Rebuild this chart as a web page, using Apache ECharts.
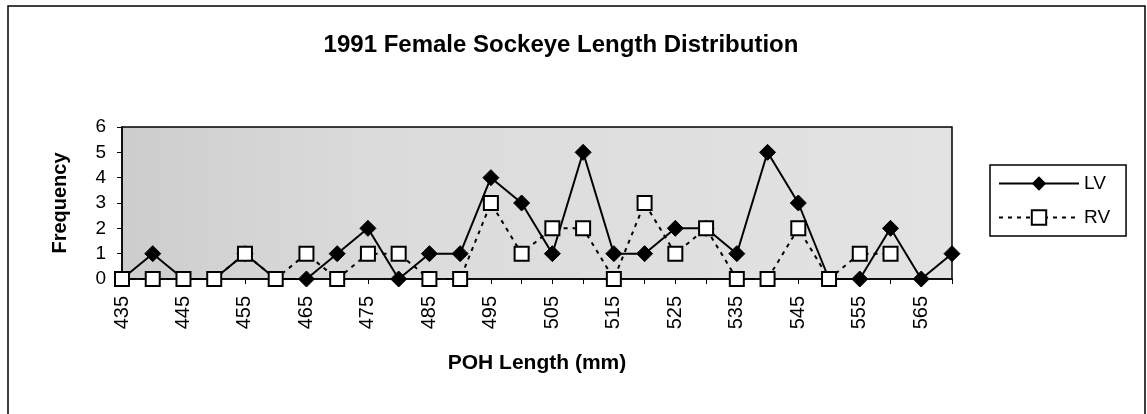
<!DOCTYPE html>
<html><head><meta charset="utf-8">
<script src="https://cdn.jsdelivr.net/npm/echarts@6/dist/echarts.min.js"></script>
<style>html,body{margin:0;padding:0;background:#fff}#c{width:1147px;height:414px}</style>
</head><body><div id="c"></div>
<script>
const categories = ['435','440','445','450','455','460','465','470','475','480','485','490','495','500','505','510','515','520','525','530','535','540','545','550','555','560','565','570'];
const lvValues = [0,1,0,0,1,0,0,1,2,0,1,1,4,3,1,5,1,1,2,2,1,5,3,0,0,2,0,1];
const rvValues = [0,0,0,0,1,0,1,0,1,1,0,0,3,1,2,2,0,3,1,2,0,0,2,0,1,1,null,null];
const yTicks = [0,1,2,3,4,5,6];

const font = 'Liberation Sans, Arial, sans-serif';
const chart = echarts.init(document.getElementById('c'));
chart.setOption({
  animation:false,
  backgroundColor:'#fff',
  title:{text:'1991 Female Sockeye Length Distribution',left:556,top:28,textAlign:'center',
    textStyle:{fontFamily:font,fontSize:24,fontWeight:'bold',color:'#000'}},
  graphic:[{type:'rect',shape:{x:8,y:6,width:1137,height:420},style:{fill:'none',stroke:'#000',lineWidth:1.5},silent:true}],
  legend:{orient:'vertical',left:990,top:165,itemWidth:80,itemHeight:18,itemGap:15,
    padding:[9,16,9,8],borderColor:'#000',borderWidth:1.5,backgroundColor:'#fff',
    textStyle:{fontFamily:font,fontSize:19,color:'#000'},data:['LV','RV']},
  grid:{left:122,right:195,top:127,bottom:135,show:true,
    backgroundColor:{type:'linear',x:0,y:0,x2:1,y2:0,colorStops:[{offset:0,color:'#cdcdcd'},{offset:0.3,color:'#dbdbdb'},{offset:1,color:'#e3e3e3'}]},
    borderColor:'#000',borderWidth:1.5},
  xAxis:{type:'category',data:categories,boundaryGap:false,
    name:'POH Length (mm)',nameLocation:'middle',nameGap:74,
    nameTextStyle:{fontFamily:font,fontSize:21,fontWeight:'bold',color:'#000'},
    axisLine:{lineStyle:{color:'#000',width:1.5}},
    axisTick:{show:true,interval:0,length:5,lineStyle:{color:'#000'}},
    axisLabel:{interval:1,rotate:90,margin:17,fontFamily:font,fontSize:20,color:'#000'},
    splitLine:{show:false}},
  yAxis:{type:'value',min:0,max:6,interval:1,
    name:'Frequency',nameLocation:'middle',nameGap:52,
    nameTextStyle:{fontFamily:font,fontSize:20,fontWeight:'bold',color:'#000'},
    axisLine:{show:true,lineStyle:{color:'#000',width:1.5}},
    axisTick:{show:true,length:5,lineStyle:{color:'#000'}},
    axisLabel:{margin:16,fontFamily:font,fontSize:19,color:'#000',
      formatter:v=>yTicks.includes(v)?String(v):''},
    splitLine:{show:false}},
  series:[
    {name:'LV',type:'line',data:lvValues,symbol:'diamond',symbolSize:16,
      lineStyle:{color:'#000',width:2},itemStyle:{color:'#000',borderColor:'#000'},z:2},
    {name:'RV',type:'line',data:rvValues,symbol:'rect',symbolSize:14,connectNulls:false,
      lineStyle:{color:'#000',width:2,type:[4,5]},itemStyle:{color:'#fff',borderColor:'#000',borderWidth:2},z:3}
  ]
});
</script></body></html>
